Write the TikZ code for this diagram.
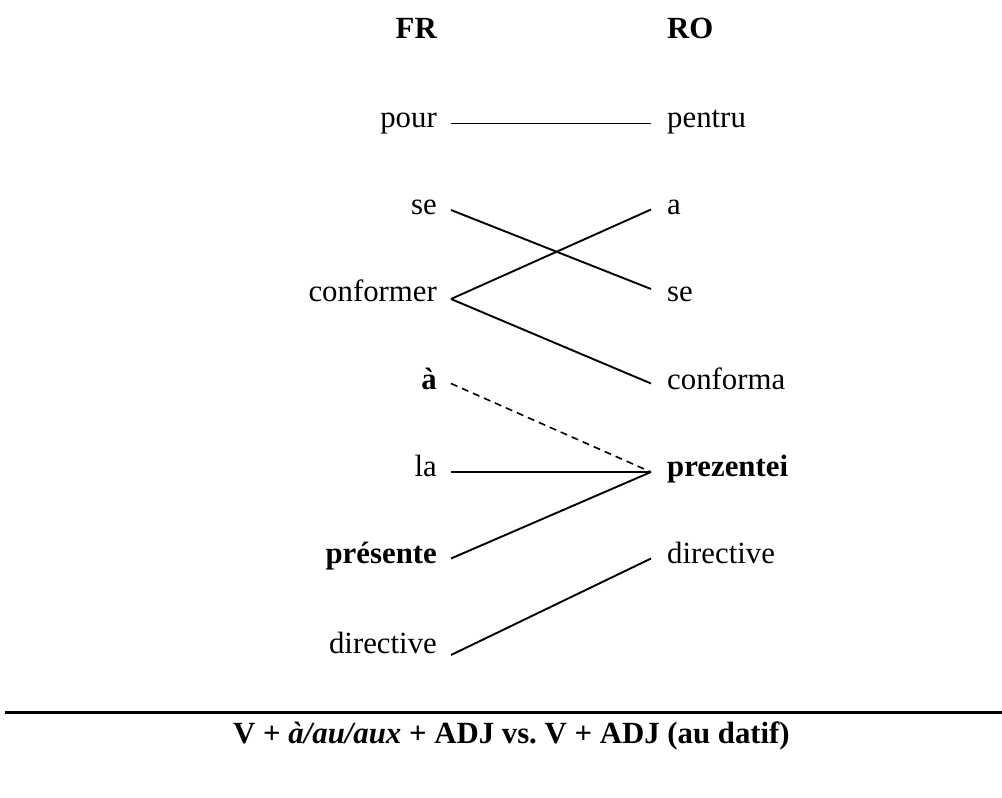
\documentclass[tikz,border=0pt]{standalone}
\usepackage{fontspec}
\setmainfont{Liberation Serif}
\frenchspacing
\begin{document}
\begin{tikzpicture}[x=1pt,y=-1pt,
  word/.style={inner sep=0pt,font=\fontsize{30.8pt}{37pt}\selectfont},
  lw/.style={word,anchor=base east},
  rw/.style={word,anchor=base west},
  link/.style={line width=1.9pt,line cap=butt},
  dlink/.style={line width=1.6pt,dash pattern=on 7pt off 5pt}]
\useasboundingbox (0,0) rectangle (1002,798);
% headers
\node[lw,font=\fontsize{30.8pt}{37pt}\selectfont\bfseries] (FR) at (437,38) {FR};
\node[rw,font=\fontsize{30.8pt}{37pt}\selectfont\bfseries] (RO) at (667,38) {RO};
% left words
\node[lw] (pour) at (437,127) {pour};
\node[lw] (seL) at (437,214) {se};
\node[lw] (conformer) at (437,301) {conformer};
\node[lw,font=\fontsize{30.8pt}{37pt}\selectfont\bfseries] (aL) at (437,389) {à};
\node[lw] (la) at (437,476) {la};
\node[lw,font=\fontsize{30.8pt}{37pt}\selectfont\bfseries] (presente) at (437,563) {présente};
\node[lw] (dirL) at (437,653) {directive};
% right words
\node[rw] (pentru) at (667,127) {pentru};
\node[rw] (aR) at (667,214) {a};
\node[rw] (seR) at (667,301) {se};
\node[rw] (conforma) at (667,389) {conforma};
\node[rw,font=\fontsize{30.8pt}{37pt}\selectfont\bfseries] (prezentei) at (667,476) {prezentei};
\node[rw] (dirR) at (667,563) {directive};
% connector ends
\coordinate (pourE) at (451,123.5);
\coordinate (seLE) at (451,210);
\coordinate (conformerE) at (451,299);
\coordinate (aLE) at (451,383.5);
\coordinate (laE) at (451,472);
\coordinate (presenteE) at (451,558.5);
\coordinate (dirLE) at (451,655);
\coordinate (pentruW) at (651,123.5);
\coordinate (aRW) at (651,209.5);
\coordinate (seRW) at (651,289);
\coordinate (conformaW) at (651,383.5);
\coordinate (prezenteiW) at (651,472);
\coordinate (dirRW) at (651,558.5);
% links
\draw[link] (pourE) -- (pentruW);
\draw[link] (seLE) -- (seRW);
\draw[link] (conformerE) -- (aRW);
\draw[link] (conformerE) -- (conformaW);
\draw[dlink] (aLE) -- (prezenteiW);
\draw[link] (laE) -- (prezenteiW);
\draw[link] (presenteE) -- (prezenteiW);
\draw[link] (dirLE) -- (dirRW);
% rule and caption
\coordinate (ruleL) at (5,712.5);
\coordinate (ruleR) at (1002,712.5);
\draw[line width=2.2pt] (ruleL) -- (ruleR);
\node[word,anchor=base,font=\fontsize{30.8pt}{37pt}\selectfont\bfseries] (caption) at (511.5,743)
  {V + \textit{à/au/aux} + ADJ vs. V + ADJ (au datif)};
\end{tikzpicture}
\end{document}
